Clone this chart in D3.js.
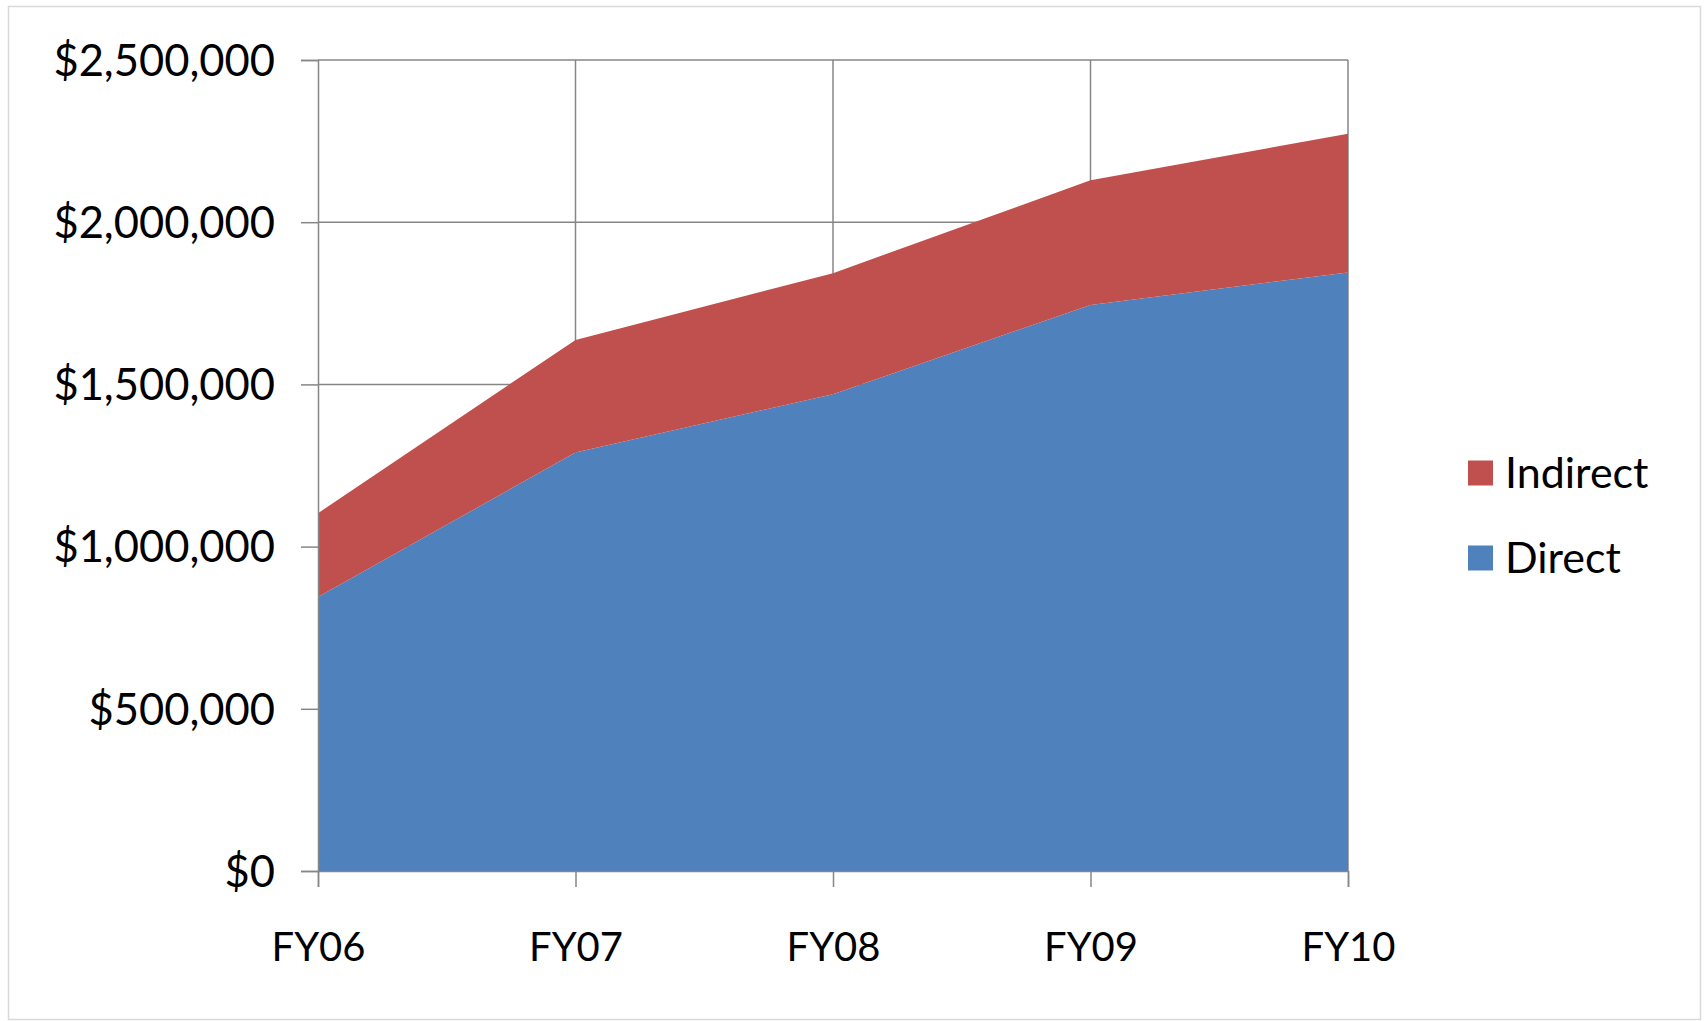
<!DOCTYPE html>
<html>
<head>
<meta charset="utf-8">
<script src="https://cdn.jsdelivr.net/npm/d3@7"></script>
<style>
  html, body { margin: 0; padding: 0; background: #fff; }
  svg { display: block; }
  text { font-family: Lato, "Open Sans", sans-serif; fill: #000; }
</style>
</head>
<body>
<svg id="chart" width="1705" height="1021"></svg>
<script>
// ---- data ----
const categories = ["FY06", "FY07", "FY08", "FY09", "FY10"];
const direct   = [845000, 1290000, 1470000, 1745000, 1845000];
const indirect = [258000,  347000,  373000,  384000,  428000];
const yTicks   = [0, 500000, 1000000, 1500000, 2000000, 2500000];
const seriesNames  = ["Direct", "Indirect"];
const seriesColors = ["#4F81BD", "#C0504D"];

// ---- layout ----
const svg = d3.select("#chart");
const plot = { left: 318, right: 1348, top: 60, bottom: 871 };
const gridColor = "#868686";

// outer chart border
svg.append("rect")
  .attr("x", 8.5).attr("y", 6.5)
  .attr("width", 1692).attr("height", 1013)
  .attr("fill", "#fff").attr("stroke", "#D9D9D9").attr("stroke-width", 1.5);

const x = d3.scalePoint().domain(categories).range([plot.left, plot.right]);
const y = d3.scaleLinear().domain([0, 2500000]).range([plot.bottom, plot.top]);

const rows = categories.map((c, i) => ({ cat: c, Direct: direct[i], Indirect: indirect[i] }));
const stacked = d3.stack().keys(seriesNames)(rows);

// gridlines (behind areas)
const g = svg.append("g");
g.selectAll("line.hgrid").data(yTicks.slice(1)).join("line")
  .attr("x1", plot.left).attr("x2", plot.right)
  .attr("y1", d => y(d)).attr("y2", d => y(d))
  .attr("stroke", gridColor).attr("stroke-width", 1.5);
g.selectAll("line.vgrid").data(categories.slice(1)).join("line")
  .attr("x1", d => x(d)).attr("x2", d => x(d))
  .attr("y1", plot.top).attr("y2", plot.bottom)
  .attr("stroke", gridColor).attr("stroke-width", 1.5);

// areas
const area = d3.area()
  .x(d => x(d.data.cat))
  .y0(d => y(d[0]))
  .y1(d => y(d[1]));
svg.selectAll("path.area").data(stacked).join("path")
  .attr("d", area)
  .attr("fill", (d, i) => seriesColors[i]);

// y axis
const yAxis = d3.axisLeft(y).tickValues(yTicks)
  .tickFormat(d => "$" + d3.format(",")(d))
  .tickSize(17).tickPadding(26);
const yg = svg.append("g").attr("transform", `translate(${plot.left},0)`).call(yAxis);
yg.select(".domain").attr("stroke", gridColor).attr("stroke-width", 1.5);
yg.selectAll(".tick line").attr("stroke", gridColor).attr("stroke-width", 1.5);
yg.selectAll(".tick text").attr("font-size", 43.5).attr("dy", "0.35em");

// x axis
const xAxis = d3.axisBottom(x).tickSize(16).tickPadding(46);
const xg = svg.append("g").attr("transform", `translate(0,${plot.bottom})`).call(xAxis);
xg.select(".domain").attr("stroke", gridColor).attr("stroke-width", 1.5);
xg.selectAll(".tick line").attr("stroke", gridColor).attr("stroke-width", 1.5);
xg.selectAll(".tick text").attr("font-size", 40);

// legend (Indirect on top)
const legendItems = [
  { name: "Indirect", color: seriesColors[1], y: 473 },
  { name: "Direct", color: seriesColors[0], y: 558 }
];
const lg = svg.append("g");
lg.selectAll("rect").data(legendItems).join("rect")
  .attr("x", 1468).attr("y", d => d.y - 12.5)
  .attr("width", 25).attr("height", 25)
  .attr("fill", d => d.color);
lg.selectAll("text").data(legendItems).join("text")
  .attr("x", 1505).attr("y", d => d.y + 15)
  .attr("font-size", 43)
  .text(d => d.name);
</script>
</body>
</html>
